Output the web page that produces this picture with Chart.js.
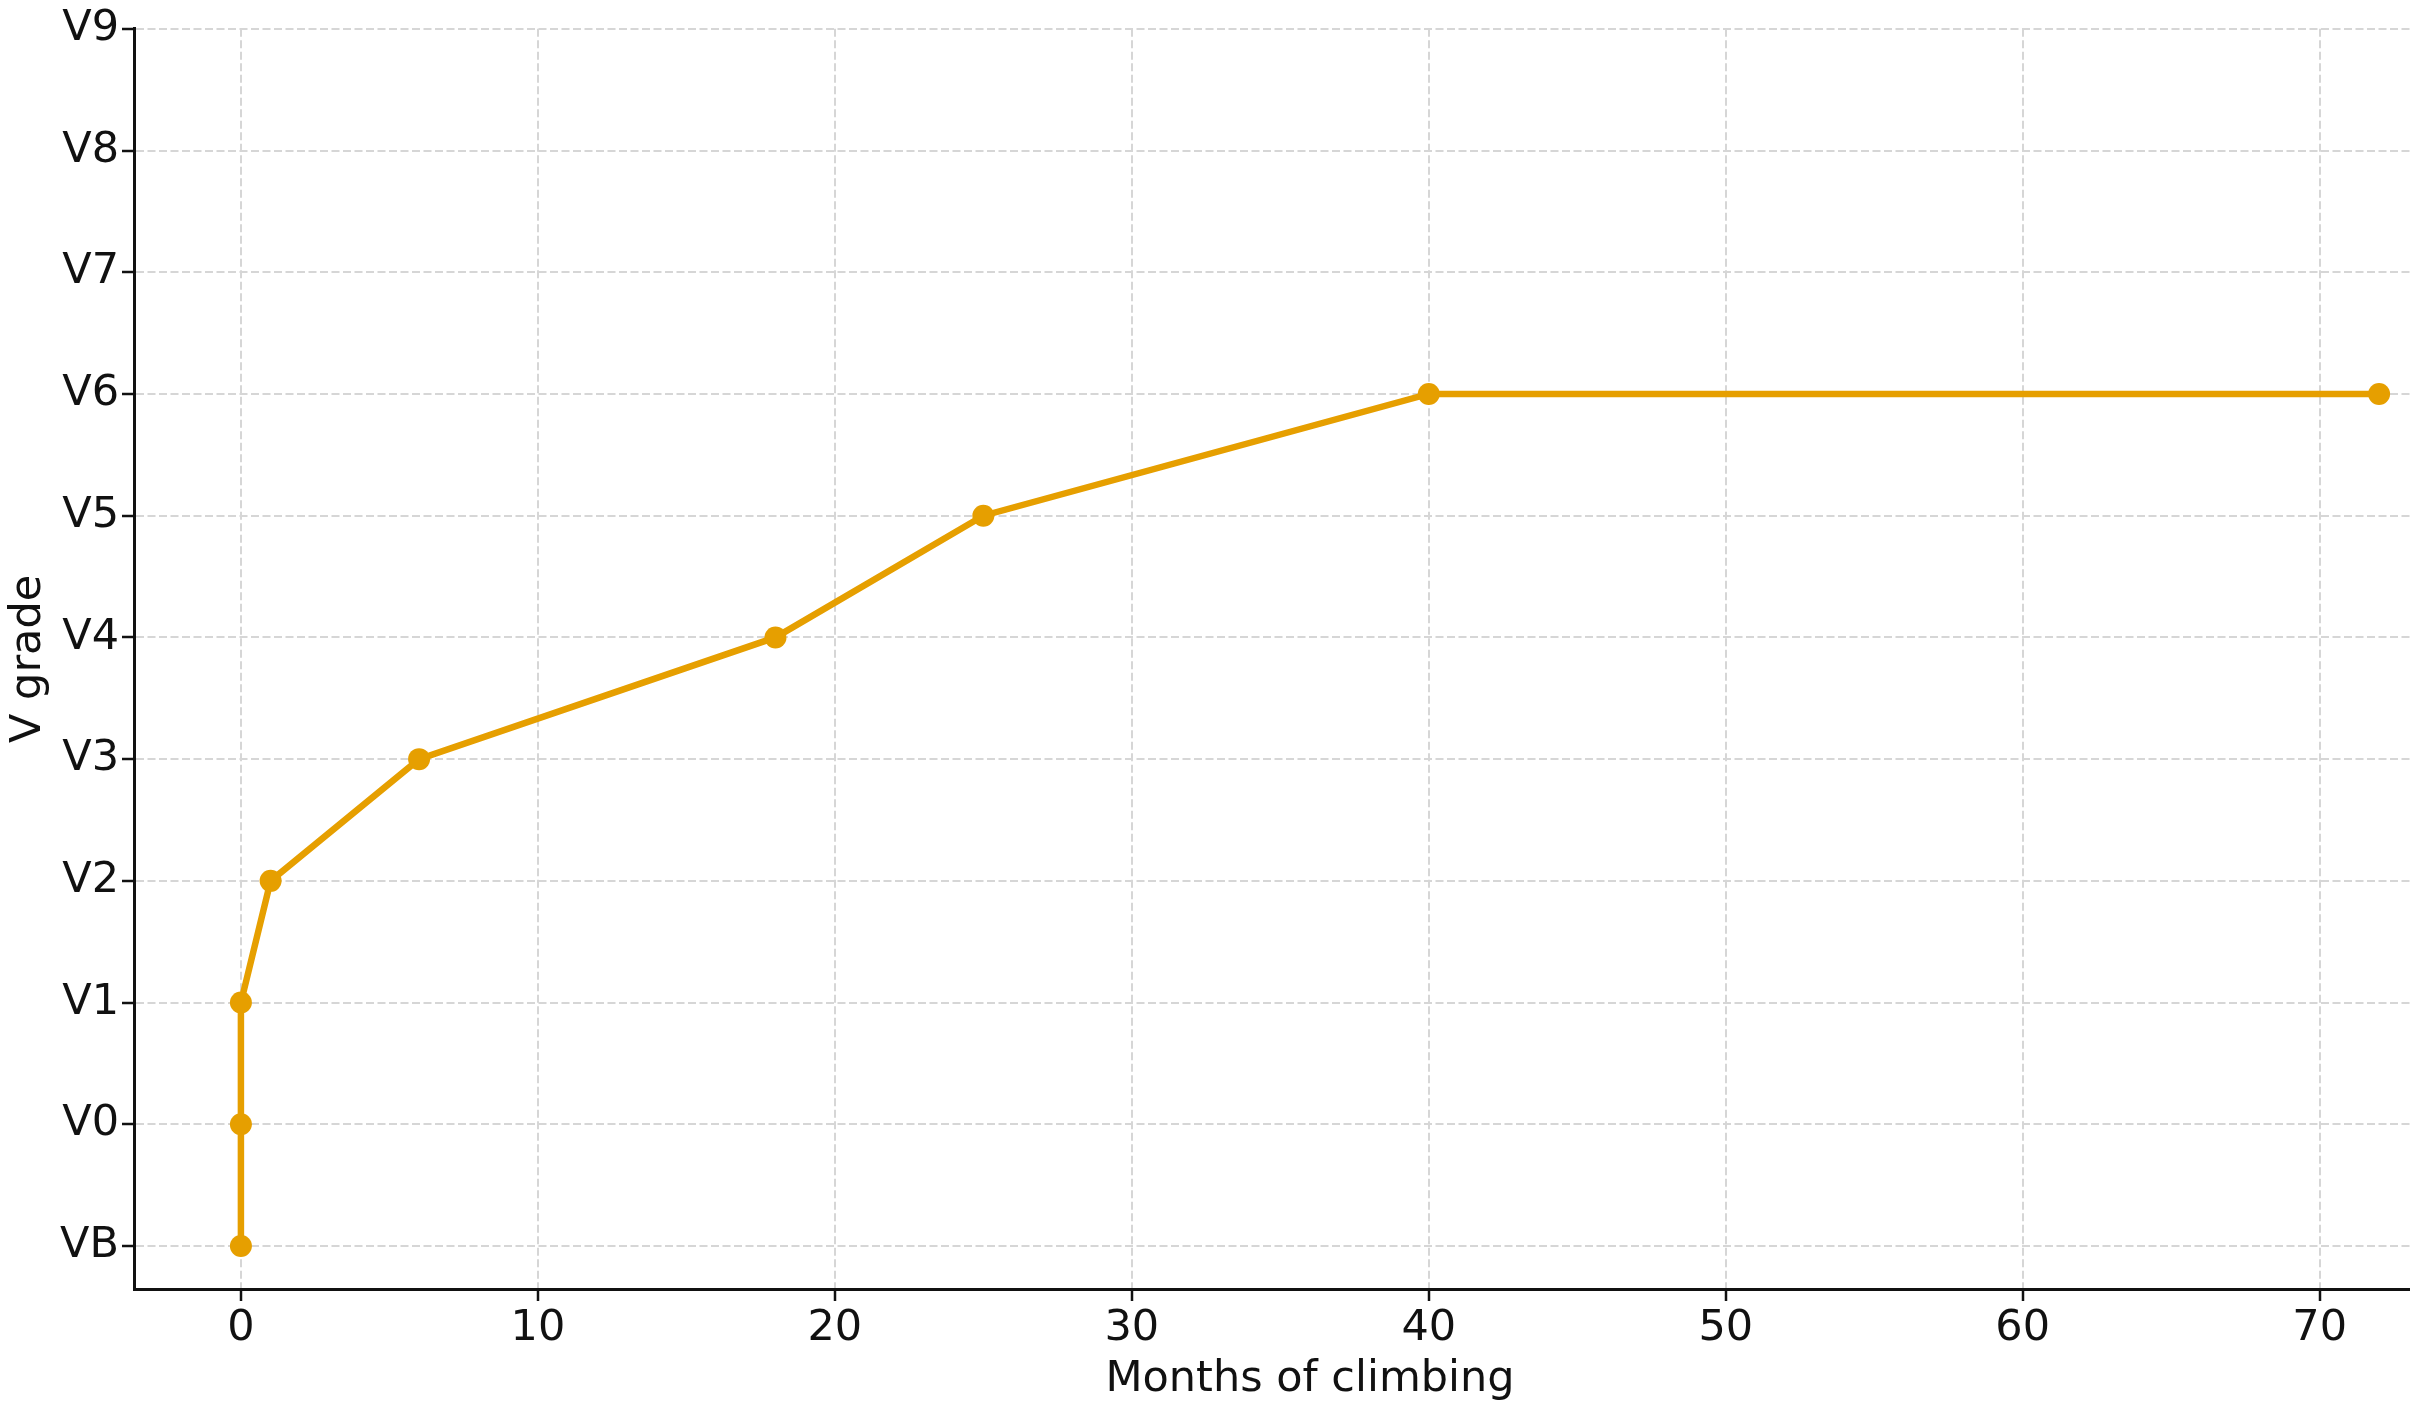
<!DOCTYPE html>
<html>
<head>
<meta charset="utf-8">
<script src="https://cdn.jsdelivr.net/npm/chart.js@4.4.1/dist/chart.umd.min.js"></script>
<style>
  html, body { margin: 0; padding: 0; background: #fff; overflow: hidden; }
  #wrap { width: 2410px; height: 1406px; overflow: hidden; }
  canvas { display: block; }
</style>
</head>
<body>
<div id="wrap"><canvas id="grade-chart" width="2500" height="1406"></canvas></div>
<script>
// climbing progress: months vs V grade (VB = 0, V0 = 1, ...)
const months = [0, 0, 0, 1, 6, 18, 25, 40, 72];
const grades = [0, 1, 2, 3, 4, 5, 6, 7, 7];
const gradeLabels = ['VB', 'V0', 'V1', 'V2', 'V3', 'V4', 'V5', 'V6', 'V7', 'V8', 'V9'];
const xTickValues = [0, 10, 20, 30, 40, 50, 60, 70];
const yTickValues = [0, 1, 2, 3, 4, 5, 6, 7, 8, 9, 10];

const FONT = "'DejaVu Sans', sans-serif";
const ORANGE = '#E69F00';
const GRID = '#d6d6d6';
const INK = '#111111';

const points = months.map((m, i) => ({ x: m, y: grades[i] }));

const ctx = document.getElementById('grade-chart');

new Chart(ctx, {
  type: 'line',
  data: {
    datasets: [{
      data: points,
      borderColor: ORANGE,
      backgroundColor: ORANGE,
      borderWidth: 6.5,
      tension: 0,
      pointRadius: 11,
      pointBorderWidth: 0,
      pointHoverRadius: 11,
      fill: false
    }]
  },
  options: {
    responsive: false,
    animation: false,
    events: [],
    layout: { padding: { top: 28, right: 14, left: 3, bottom: 0 } },
    plugins: {
      legend: { display: false },
      tooltip: { enabled: false }
    },
    scales: {
      x: {
        type: 'linear',
        min: -3.6,
        max: 75.6,
        afterBuildTicks: function(scale) {
          scale.ticks = xTickValues.map(v => ({ value: v }));
        },
        afterFit: function(scale) {
          scale.height = 117;
        },
        grid: {
          color: GRID,
          lineWidth: 2,
          drawTicks: true,
          tickLength: 12,
          tickColor: INK,
          tickWidth: 2.5,
          tickBorderDash: [0, 0]
        },
        border: { display: true, color: INK, width: 3, dash: [8, 3.5] },
        ticks: {
          color: INK,
          padding: 2,
          maxRotation: 0,
          font: { family: FONT, size: 43 }
        },
        title: {
          display: true,
          text: 'Months of climbing',
          color: INK,
          padding: { top: 0, bottom: 0 },
          font: { family: FONT, size: 43 }
        }
      },
      y: {
        type: 'linear',
        min: -0.353,
        max: 10,
        afterBuildTicks: function(scale) {
          scale.ticks = yTickValues.map(v => ({ value: v }));
        },
        afterFit: function(scale) {
          scale.width = 131;
        },
        grid: {
          color: GRID,
          lineWidth: 2,
          drawTicks: true,
          tickLength: 12,
          tickColor: INK,
          tickWidth: 2.5,
          tickBorderDash: [0, 0]
        },
        border: { display: true, color: INK, width: 3, dash: [8, 3.5] },
        ticks: {
          color: INK,
          padding: 3,
          font: { family: FONT, size: 43 },
          callback: function(value) {
            return gradeLabels[value];
          }
        },
        title: {
          display: true,
          text: 'V grade',
          color: INK,
          padding: { top: 0, bottom: 0 },
          font: { family: FONT, size: 43 }
        }
      }
    }
  }
});
</script>
</body>
</html>
